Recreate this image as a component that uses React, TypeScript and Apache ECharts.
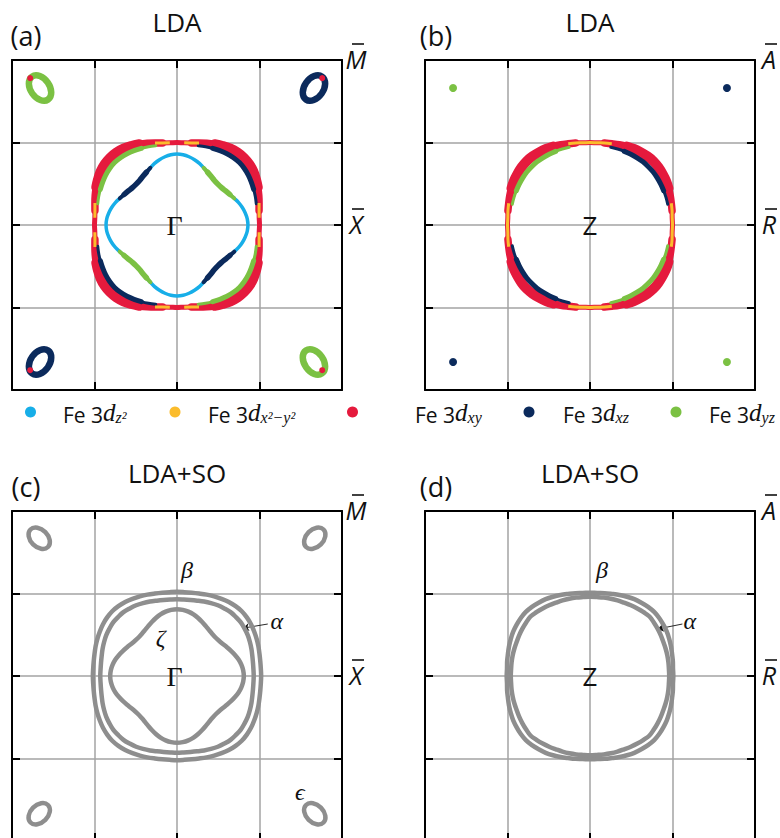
import React, { useEffect, useRef } from 'react';
import * as echarts from 'echarts';

// ---------- data (k in units of the grid spacing, Γ / Z at the origin) ----------
// Contour radii read every 5° from the kx axis (0°) to the diagonal (45°);
// the Fermi sheets are 4-fold and mirror symmetric.
const A_BETA = [1.0, 1.0, 1.01, 1.03, 1.055, 1.08, 1.105, 1.13, 1.145, 1.15];
const A_ALPHA = [0.98, 0.98, 0.985, 0.995, 1.01, 1.025, 1.04, 1.055, 1.065, 1.07];
const A_ZETA = [0.86, 0.855, 0.84, 0.82, 0.795, 0.765, 0.74, 0.72, 0.705, 0.7];
const B_BETA = [1.0, 1.0, 1.01, 1.02, 1.035, 1.05, 1.065, 1.075, 1.085, 1.09];
const B_ALPHA = [0.97, 0.97, 0.972, 0.975, 0.98, 0.985, 0.99, 0.995, 1.0, 1.0];
const C_BETA = [1.02, 1.02, 1.025, 1.035, 1.05, 1.065, 1.08, 1.095, 1.105, 1.11];
const C_ALPHA = [0.93, 0.93, 0.935, 0.945, 0.96, 0.975, 0.99, 1.0, 1.01, 1.01];
const C_ZETA = [0.81, 0.805, 0.792, 0.773, 0.748, 0.722, 0.698, 0.678, 0.665, 0.66];
const D_BETA = [1.01, 1.01, 1.02, 1.03, 1.045, 1.06, 1.075, 1.085, 1.095, 1.1];
const D_ALPHA = [0.96, 0.96, 0.965, 0.97, 0.975, 0.98, 0.99, 1.0, 1.01, 1.02];

// orbital character along the sheets: [fromDeg, toDeg, orbital]
// (the *_CORE ranges are where that character is strongest -> drawn heavier)
const A_ALPHA_CHAR = [[15, 75, 'xz'], [105, 165, 'yz'], [195, 255, 'xz'], [285, 345, 'yz']];
const A_ALPHA_CORE = [[25, 65, 'xz'], [115, 155, 'yz'], [205, 245, 'xz'], [295, 335, 'yz']];
const A_BETA_HEAVY = [[10, 80, 'xy'], [100, 170, 'xy'], [190, 260, 'xy'], [280, 350, 'xy']];
const A_BETA_CORE = [[25, 65, 'xy'], [115, 155, 'xy'], [205, 245, 'xy'], [295, 335, 'xy']];
const A_BETA_X2Y2 = [
  [5, 15, 'x2y2'], [75, 85, 'x2y2'], [95, 105, 'x2y2'], [165, 175, 'x2y2'],
  [185, 195, 'x2y2'], [255, 265, 'x2y2'], [275, 285, 'x2y2'], [345, 355, 'x2y2'],
];
const A_ZETA_CHAR = [[25, 65, 'yz'], [115, 155, 'xz'], [205, 245, 'yz'], [295, 335, 'xz']];
const A_ZETA_CORE = [[30, 60, 'yz'], [120, 150, 'xz'], [210, 240, 'yz'], [300, 330, 'xz']];
const B_ALPHA_CHAR = [[15, 75, 'xz'], [105, 165, 'yz'], [195, 255, 'xz'], [285, 345, 'yz']];
const B_ALPHA_CORE = [[25, 65, 'xz'], [115, 155, 'yz'], [205, 245, 'xz'], [295, 335, 'yz']];
const B_BETA_HEAVY = [[10, 80, 'xy'], [100, 170, 'xy'], [190, 260, 'xy'], [280, 350, 'xy']];
const B_BETA_CORE = [[25, 65, 'xy'], [115, 155, 'xy'], [205, 245, 'xy'], [295, 335, 'xy']];
const B_BETA_X2Y2 = [[-15, 15, 'x2y2'], [75, 105, 'x2y2'], [165, 195, 'x2y2'], [255, 285, 'x2y2']];

// corner pockets: [kx, ky, semi-major, semi-minor, tilt°, orbital]
const A_POCKETS = [
  [-1.66, 1.66, 0.17, 0.115, 125, 'yz'], [1.66, 1.66, 0.17, 0.115, 55, 'xz'],
  [-1.66, -1.66, 0.17, 0.115, 55, 'xz'], [1.66, -1.66, 0.17, 0.115, 125, 'yz'],
];
const A_POCKET_XY = [[-1.78, 1.78], [1.76, 1.78], [-1.78, -1.76], [1.76, -1.76]];
const B_DOTS = [[-1.66, 1.66, 'yz'], [1.66, 1.66, 'xz'], [-1.66, -1.66, 'xz'], [1.66, -1.66, 'yz']];
const C_POCKETS = [
  [-1.67, 1.67, 0.15, 0.105, 135], [1.67, 1.67, 0.15, 0.105, 45],
  [-1.67, -1.67, 0.15, 0.105, 45], [1.67, -1.67, 0.15, 0.105, 135],
];

// annotations
const CENTER_LABELS = ['Γ', 'Z', 'Γ', 'Z'];
const CENTER_POS = [[-0.03, 0], [0, 0], [-0.03, 0], [0, 0]];
const C_GREEK = [['β', 0.12, 1.28], ['ζ', -0.2, 0.46], ['α', 1.21, 0.67], ['ϵ', 1.49, -1.41]];
const D_GREEK = [['β', 0.145, 1.28], ['α', 1.21, 0.67]];
const C_ARROW = [[1.1, 0.63], [0.8, 0.58]];
const D_ARROW = [[1.12, 0.63], [0.82, 0.57]];

const PANEL_TITLES = ['LDA', 'LDA', 'LDA+SO', 'LDA+SO'];
const PANEL_TAGS = ['(a)', '(b)', '(c)', '(d)'];
const CORNER_LETTERS = [['M', 'X'], ['A', 'R'], ['M', 'X'], ['A', 'R']];
const LEGEND_KEYS = ['z2', 'x2y2', 'xy', 'xz', 'yz'];
const LEGEND_SUBS = ['z²', 'x²−y²', 'xy', 'xz', 'yz'];

// ---------- layout & style ----------
const STEP = 5;
const SIZE = 330;
const PANEL_BOX = [[12, 60], [425, 60], [12, 511], [425, 511]];
const TITLE_POS = [[177, 22], [590, 22], [177, 473], [590, 473]];
const TAG_POS = [[26, 35], [436, 35], [26, 486], [436, 486]];
const LEGEND_DOT_X = [30.5, 175, 352.5, 529, 676];
const LEGEND_TEXT_X = [63, 208, 415, 563, 709];
const LEGEND_Y = 412;
const COLORS: Record<string, string> = {
  z2: '#17aee8', x2y2: '#fbbc2c', xy: '#e51a3d', xz: '#0b2a5c', yz: '#7bc143',
};
const GRAY = '#8e8e8e';
const GRID_GRAY = '#a3a3a3';
const INK = '#111111';
const SANS = '"Open Sans", "DejaVu Sans", sans-serif';
const SERIF = '"Liberation Serif", "DejaVu Serif", serif';

function radiusAt(table: number[], deg: number) {
  let t = ((deg % 90) + 90) % 90;
  if (t > 45) t = 90 - t;
  return table[Math.round(t / STEP)];
}
function arc(table: number[], from: number, to: number) {
  const pts: number[][] = [];
  for (let d = from; d <= to; d += STEP) {
    const r = radiusAt(table, d);
    const th = (d * Math.PI) / 180;
    pts.push([r * Math.cos(th), r * Math.sin(th)]);
  }
  return pts;
}

export default function App() {
  const ref = useRef<HTMLDivElement>(null);
  useEffect(() => {
    document.body.style.margin = '0';
    if (!ref.current) return;
    const chart = echarts.init(ref.current, null, { renderer: 'svg' });

    const grid: any[] = [];
    const xAxis: any[] = [];
    const yAxis: any[] = [];
    PANEL_BOX.forEach(([l, t], i) => {
      grid.push({ left: l, top: t, width: SIZE, height: SIZE, outerBoundsMode: 'none', containLabel: false });
      const base = (pos: string, split: boolean, gi: number) => ({
        gridIndex: gi, type: 'value', min: -2, max: 2, interval: 1, position: pos,
        axisLine: { show: true, onZero: false, lineStyle: { color: '#000', width: 2 } },
        axisTick: { show: true, inside: true, length: 8, lineStyle: { color: '#000', width: 2 } },
        axisLabel: { show: false },
        splitLine: { show: split, lineStyle: { color: GRID_GRAY, width: 1.5 } },
        splitArea: { show: false },
        z: 1,
      });
      xAxis.push(base('bottom', true, i), base('top', false, i));
      yAxis.push(base('left', true, i), base('right', false, i));
    });

    const series: any[] = [];
    const line = (p: number, pts: number[][], color: string, width: number, cap = 'round') => {
      series.push({
        type: 'line', xAxisIndex: p * 2, yAxisIndex: p * 2, data: pts, smooth: 0.35,
        symbol: 'none', showSymbol: false, silent: true, emphasis: { disabled: true },
        lineStyle: { color, width, cap, join: 'round' },
      });
    };
    const segs = (p: number, table: number[], list: any[], width: number, cap = 'round') =>
      list.forEach(([f, t, o]) => line(p, arc(table, f, t), COLORS[o], width, cap));
    const pockets = (p: number, list: any[], width: number, colorOf: (d: any[]) => string) => {
      series.push({
        type: 'custom', xAxisIndex: p * 2, yAxisIndex: p * 2, silent: true,
        data: list.map((d) => ({ value: d.slice(0, 5), itemStyle: { color: colorOf(d) } })),
        renderItem: (params: any, api: any) => {
          const c = api.coord([api.value(0), api.value(1)]);
          const u = api.size([1, 1]);
          return {
            type: 'ellipse', x: c[0], y: c[1], rotation: (api.value(4) * Math.PI) / 180,
            shape: { cx: 0, cy: 0, rx: api.value(2) * u[0], ry: api.value(3) * u[1] },
            style: { fill: 'none', stroke: api.visual('color'), lineWidth: width },
          };
        },
      });
    };
    const labels = (p: number, list: any[], font: any) => {
      series.push({
        type: 'scatter', xAxisIndex: p * 2, yAxisIndex: p * 2, symbolSize: 1, silent: true,
        itemStyle: { color: 'rgba(255,255,255,0)', opacity: 1 },
        data: list.map((d) => ({ value: [d[1], d[2]], name: d[0] })),
        label: { show: true, position: 'inside', formatter: '{b}', color: INK, opacity: 1, ...font },
        labelLayout: { hideOverlap: false },
        z: 5,
      });
    };
    const arrow = (p: number, coords: number[][]) => {
      series.push({
        type: 'lines', coordinateSystem: 'cartesian2d', xAxisIndex: p * 2, yAxisIndex: p * 2,
        silent: true, data: [{ coords }], symbol: ['none', 'arrow'], symbolSize: 6,
        lineStyle: { color: INK, width: 0.9, opacity: 1 },
      });
    };

    // (a) LDA, kz = 0
    line(0, arc(A_BETA, -5, 365), COLORS.xy, 5);
    segs(0, A_BETA, A_BETA_HEAVY, 7.5);
    segs(0, A_BETA, A_BETA_CORE, 10);
    segs(0, A_ALPHA, A_ALPHA_CHAR, 3);
    segs(0, A_ALPHA, A_ALPHA_CORE, 5);
    segs(0, A_BETA, A_BETA_X2Y2, 3, 'butt');
    line(0, arc(A_ZETA, -5, 365), COLORS.z2, 3.5);
    segs(0, A_ZETA, A_ZETA_CHAR, 4);
    segs(0, A_ZETA, A_ZETA_CORE, 5.5);
    pockets(0, A_POCKETS, 6.5, (d) => COLORS[d[5]]);
    series.push({
      type: 'scatter', xAxisIndex: 0, yAxisIndex: 0, symbolSize: 6, silent: true,
      itemStyle: { color: COLORS.xy, opacity: 1 }, data: A_POCKET_XY,
    });
    // (b) LDA, kz = π
    line(1, arc(B_BETA, -5, 365), COLORS.xy, 5);
    segs(1, B_BETA, B_BETA_HEAVY, 7.5);
    segs(1, B_BETA, B_BETA_CORE, 10);
    segs(1, B_ALPHA, B_ALPHA_CHAR, 3);
    segs(1, B_ALPHA, B_ALPHA_CORE, 5);
    segs(1, B_BETA, B_BETA_X2Y2, 3, 'butt');
    series.push({
      type: 'scatter', xAxisIndex: 2, yAxisIndex: 2, symbolSize: 8, silent: true,
      data: B_DOTS.map((d) => ({ value: [d[0], d[1]], itemStyle: { color: COLORS[d[2] as string], opacity: 1 } })),
    });
    // (c) LDA+SO
    line(2, arc(C_BETA, -5, 365), GRAY, 4.5);
    line(2, arc(C_ALPHA, -5, 365), GRAY, 4.5);
    line(2, arc(C_ZETA, -5, 365), GRAY, 4.5);
    pockets(2, C_POCKETS, 4.5, () => GRAY);
    arrow(2, C_ARROW);
    labels(2, C_GREEK, { fontFamily: SERIF, fontStyle: 'italic', fontSize: 24 });
    // (d) LDA+SO
    line(3, arc(D_BETA, -5, 365), GRAY, 4.5);
    line(3, arc(D_ALPHA, -5, 365), GRAY, 4.5);
    arrow(3, D_ARROW);
    labels(3, D_GREEK, { fontFamily: SERIF, fontStyle: 'italic', fontSize: 24 });
    // centre labels
    CENTER_LABELS.forEach((t, i) => {
      const font = t === 'Γ' ? { fontFamily: SERIF, fontSize: 28 } : { fontFamily: SANS, fontSize: 26 };
      labels(i, [[t, CENTER_POS[i][0], CENTER_POS[i][1]]], font);
    });

    // ---------- texts drawn around the panels ----------
    const graphic: any[] = [];
    const txt = (x: number, y: number, text: string, font: string, align = 'center') =>
      graphic.push({
        type: 'text', x, y, silent: true,
        style: { text, font, fill: INK, textAlign: align, align, textVerticalAlign: 'middle', verticalAlign: 'middle' },
      });
    PANEL_BOX.forEach(([l, t], i) => {
      txt(TITLE_POS[i][0], TITLE_POS[i][1], PANEL_TITLES[i], `26px ${SANS}`);
      txt(TAG_POS[i][0], TAG_POS[i][1], PANEL_TAGS[i], `27px ${SANS}`);
      const lx = l + SIZE + 14;
      const ys = [t - 1, t + SIZE / 2 - 1];
      CORNER_LETTERS[i].forEach((c, k) => {
        txt(lx, ys[k], c, `italic 25px ${SANS}`);
        graphic.push({
          type: 'line', silent: true,
          shape: { x1: lx - 4, y1: ys[k] - 15, x2: lx + 8, y2: ys[k] - 15 },
          style: { stroke: INK, lineWidth: 1.6 },
        });
      });
    });
    LEGEND_KEYS.forEach((k, i) => {
      graphic.push({
        type: 'circle', silent: true, shape: { cx: LEGEND_DOT_X[i], cy: LEGEND_Y, r: 5.5 },
        style: { fill: COLORS[k] },
      });
      graphic.push({
        type: 'text', x: LEGEND_TEXT_X[i], y: LEGEND_Y, silent: true,
        style: {
          text: `{a|Fe 3}{d|d}{s|${LEGEND_SUBS[i]}}`,
          textAlign: 'left', align: 'left', textVerticalAlign: 'middle', verticalAlign: 'middle',
          rich: {
            a: { fontFamily: SANS, fontSize: 21, lineHeight: 26, fill: INK, verticalAlign: 'bottom' },
            d: { fontFamily: SERIF, fontStyle: 'italic', fontSize: 25, lineHeight: 26, fill: INK, verticalAlign: 'bottom' },
            s: { fontFamily: SERIF, fontStyle: 'italic', fontSize: 16, lineHeight: 14, fill: INK, verticalAlign: 'bottom' },
          },
        },
      });
    });

    chart.setOption({ animation: false, grid, xAxis, yAxis, series, graphic });
    return () => chart.dispose();
  }, []);
  return <div ref={ref} style={{ width: 780, height: 838 }} />;
}
